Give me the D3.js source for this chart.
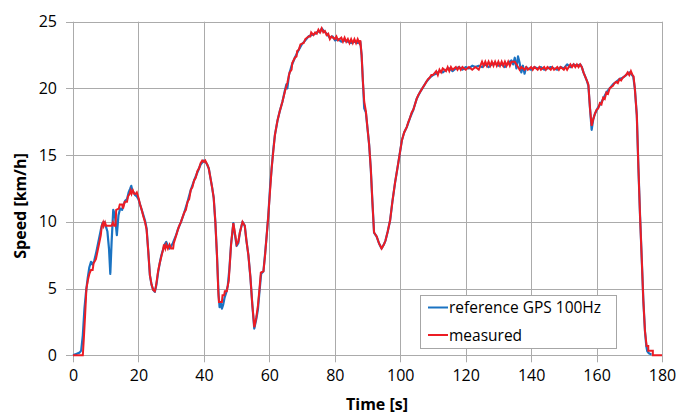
<!DOCTYPE html>
<html>
<head>
<meta charset="utf-8">
<script src="https://cdn.jsdelivr.net/npm/d3@7"></script>
<style>
  html, body { margin: 0; padding: 0; background: #fff; }
  svg { display: block; }
  text { font-family: "Open Sans", "Liberation Sans", sans-serif; fill: #000; }
</style>
</head>
<body>
<svg id="chart" width="678" height="416"></svg>
<script>
// ---- Data ----
const xTicks = [0, 20, 40, 60, 80, 100, 120, 140, 160, 180];
const yTicks = [0, 5, 10, 15, 20, 25];
const seriesNames = ["reference GPS 100Hz", "measured"];

// reference GPS 100Hz: [time s, speed km/h]
const reference = [[0,0],[0.5,0.05],[1,0.1],[1.5,0.15],[2,0.2],[2.5,0.35],[3,1.5],[3.5,3.5],[4,4.8],[4.5,5.8],[5,6.6],[5.5,7.0],[6,6.8],[6.5,7.1],[7,7.6],[7.5,8.2],[8,8.8],[8.5,9.4],[9,9.9],[9.5,10.0],[10,9.7],[10.5,9.3],[11,8.0],[11.4,6.1],[11.8,8.5],[12.3,10.9],[12.8,10.5],[13.4,9.0],[13.9,10.5],[14.4,11.0],[15,10.9],[15.5,11.3],[16,11.6],[16.5,11.7],[17,12.2],[17.5,12.5],[17.8,12.7],[18.2,12.3],[18.6,12.2],[19,12.0],[19.5,11.9],[20,11.7],[20.5,11.3],[21,10.9],[21.5,10.5],[22,10.1],[22.5,9.5],[23,7.8],[23.5,6.0],[24,5.3],[24.5,4.9],[25,4.75],[25.5,5.3],[26,6.2],[26.5,6.9],[27,7.5],[27.5,7.9],[28,8.3],[28.5,8.5],[29,8.2],[29.5,8.0],[30,8.2],[30.5,8.4],[31,8.7],[31.5,9.0],[32,9.4],[32.5,9.7],[33,10.0],[34,10.7],[35,11.5],[36,12.4],[37,13.1],[38,13.7],[39,14.3],[40,14.6],[40.5,14.5],[41,14.3],[41.5,14.0],[42,13.3],[42.5,12.6],[43,11.8],[43.5,10.0],[44,7.5],[44.5,4.5],[44.8,3.6],[45.2,3.9],[45.5,3.5],[45.9,3.8],[46.3,4.3],[46.8,4.7],[47.3,5.2],[47.8,6.5],[48.3,8.3],[49,9.9],[49.5,9.0],[50,8.2],[50.5,8.4],[51,9.2],[51.8,10.0],[52.5,9.7],[53,8.6],[53.6,7.5],[54.2,5.9],[54.8,3.8],[55.4,2.0],[56,2.7],[56.5,3.4],[57,4.8],[57.5,6.1],[58.2,6.3],[58.7,7.6],[59.2,9.0],[59.7,10.5],[60.2,12.5],[60.7,14.0],[61.2,15.4],[61.7,16.5],[62.5,17.6],[63.2,18.3],[64,19.0],[64.8,19.9],[65.2,20.3],[65.5,20.0],[66,21.0],[66.8,21.7],[67.8,22.3],[68.8,22.8],[69.9,23.3],[71,23.6],[72,23.9],[73,24.0],[74,24.1],[75,24.3],[75.5,24.2],[76,24.5],[76.7,24.3],[77.5,24.1],[78.5,23.8],[79.3,23.9],[80.1,23.6],[81,23.7],[82,23.5],[83,23.6],[84,23.5],[85,23.4],[86,23.5],[87,23.4],[87.8,23.5],[88.2,22.5],[88.6,20.5],[89,18.5],[89.5,18.2],[90,17.0],[90.5,15.8],[91,14.0],[91.5,11.5],[92,9.2],[92.8,8.9],[93.5,8.4],[94.3,8.0],[95,8.3],[95.5,8.6],[96.2,9.3],[96.9,10.1],[97.6,11.5],[98.4,12.9],[99.4,14.4],[100.5,16.1],[101.2,16.7],[102,17.1],[103,17.8],[104,18.4],[105,19.2],[106,19.7],[107,20.1],[108,20.5],[109,20.8],[110,21.0],[111,21.1],[112,21.3],[113,21.2],[114,21.4],[115,21.5],[116,21.3],[117,21.5],[118,21.6],[119,21.4],[120,21.6],[121,21.5],[122,21.7],[123,21.6],[124,21.7],[125,21.6],[126,21.8],[127,21.6],[128,21.8],[129,21.9],[130,21.7],[131,21.8],[132,21.6],[133,21.9],[134,22.1],[134.5,21.8],[135,22.3],[135.5,21.5],[136,22.4],[136.5,21.9],[137,21.2],[137.5,21.7],[138,21.1],[138.5,21.6],[139,21.5],[140,21.4],[141,21.6],[142,21.5],[143,21.6],[144,21.4],[145,21.5],[146,21.6],[147,21.5],[148,21.4],[149,21.6],[150,21.5],[151,21.8],[152,21.6],[153,21.8],[154,21.7],[155,21.8],[155.5,21.6],[156,21.2],[156.5,20.9],[157,20.6],[157.5,20.2],[158,18.5],[158.5,16.9],[159,17.7],[159.5,18.1],[160.3,18.5],[161.1,18.8],[162,19.2],[163,19.7],[164,20.0],[165,20.3],[166,20.5],[167,20.7],[168,20.8],[169,21.0],[170,21.2],[170.5,21.1],[171.2,20.9],[171.7,20.0],[172.3,18.0],[172.8,14.0],[173.3,10.4],[173.8,7.3],[174.3,4.1],[174.8,1.8],[175.2,0.7],[175.5,0.3],[176,0.15],[176.8,0.05]];

// measured: [time s, speed km/h]
const measured = [[0,0],[3,0],[3.3,1.2],[3.7,3.0],[4.1,5.0],[4.6,5.7],[5,6.1],[5.5,6.4],[6,6.4],[6.3,6.9],[7,7.2],[7.5,7.8],[8,8.4],[8.5,9.0],[8.8,9.7],[9.2,9.95],[9.4,9.7],[9.8,9.95],[10.1,9.7],[10.5,9.7],[11.8,9.7],[12.2,9.95],[12.6,9.7],[13,9.7],[13.2,10.9],[14,11.0],[14.3,11.3],[15,11.3],[15.3,11.0],[15.8,11.5],[16.5,11.5],[16.8,11.9],[17.3,12.1],[17.6,12.35],[17.9,12.1],[18.3,12.35],[18.7,12.1],[19.2,12.1],[19.5,12.2],[20,11.8],[20.5,11.3],[21,10.9],[21.5,10.4],[22,10.0],[22.5,9.4],[23,7.8],[23.5,6.0],[24,5.3],[24.5,4.9],[25,4.8],[25.3,5.1],[25.6,5.6],[26,6.3],[26.5,6.9],[27,7.4],[27.5,7.9],[27.8,8.3],[28.2,8.0],[28.5,8.3],[29,8.0],[29.5,8.3],[30,8.0],[30.6,8.0],[30.8,8.4],[31.3,8.8],[31.8,9.2],[32.3,9.6],[33,10.0],[34,10.7],[34.5,10.9],[35,11.5],[35.5,11.7],[36,12.4],[36.5,12.6],[37,13.1],[37.5,13.3],[38,13.8],[38.5,14.0],[39,14.4],[39.5,14.6],[40,14.5],[40.4,14.6],[41,14.3],[41.5,14.0],[42,13.3],[42.5,12.6],[43,11.8],[43.5,10.0],[44,7.5],[44.4,4.8],[44.6,4.0],[45.5,4.0],[45.7,4.5],[46.2,4.5],[46.4,4.8],[47,4.8],[47.2,5.1],[47.6,5.6],[48.3,8.3],[49,9.9],[49.6,9.0],[50,8.3],[50.5,8.5],[51,9.2],[51.8,10.0],[52.5,9.7],[53,8.6],[53.6,7.5],[54.2,5.9],[54.8,3.8],[55.4,2.1],[56,2.8],[56.5,3.7],[57,5.0],[57.4,6.2],[58.2,6.3],[58.7,7.5],[59.7,10.5],[60.7,14.0],[61.7,16.5],[62.5,17.6],[63.2,18.3],[64,19.0],[64.8,19.8],[65.5,20.4],[66.2,21.2],[66.8,21.4],[67,21.9],[67.8,22.3],[68.3,22.4],[68.5,22.8],[69,22.9],[69.5,23.3],[70.5,23.4],[71,23.7],[72,23.9],[72.5,23.9],[72.8,24.2],[73.5,24.0],[74,24.2],[74.5,24.1],[75,24.4],[75.5,24.2],[76,24.5],[76.5,24.2],[77,24.3],[77.5,24.0],[78,24.1],[78.5,23.7],[79,23.9],[80,23.7],[80.5,23.9],[81,23.6],[82,23.8],[82.5,23.5],[83,23.8],[83.5,23.5],[84,23.7],[84.5,23.4],[85,23.7],[85.5,23.4],[86,23.7],[86.5,23.4],[87,23.7],[87.5,23.4],[87.8,23.6],[88.2,22.5],[88.6,20.5],[89,19.0],[89.5,18.3],[90,17.0],[90.5,15.8],[91,14.0],[91.5,11.5],[92,9.2],[92.8,8.9],[93.5,8.4],[94.3,8.0],[95,8.3],[95.5,8.6],[96.2,9.3],[96.9,10.1],[97.6,11.5],[98.4,12.9],[99.4,14.4],[100.5,16.1],[101.2,16.7],[102,17.1],[102.5,17.5],[103,17.8],[103.5,18.2],[104,18.4],[104.5,18.8],[105,19.2],[105.5,19.5],[106,19.7],[106.5,19.9],[107,20.1],[107.5,20.3],[108,20.5],[108.5,20.7],[109,20.8],[109.5,21.0],[110,21.0],[111,21.3],[111.5,21.0],[112,21.4],[112.5,21.2],[113,21.5],[114,21.3],[114.5,21.6],[115,21.3],[115.5,21.6],[116,21.4],[117,21.6],[117.5,21.4],[118,21.6],[118.5,21.4],[119,21.6],[120,21.4],[121,21.6],[122,21.4],[123,21.6],[124,21.4],[124.5,21.7],[125,22.0],[125.5,21.7],[126,22.0],[126.5,21.7],[127,22.0],[127.5,21.7],[128,22.0],[128.5,21.7],[129,22.0],[129.5,21.7],[130,22.0],[130.5,21.7],[131,22.0],[131.5,21.7],[132,22.0],[132.5,21.7],[133,22.0],[133.5,21.7],[134,22.0],[135,22.0],[136,21.6],[136.5,21.4],[137,21.6],[138,21.4],[138.5,21.6],[139,21.4],[140,21.6],[140.5,21.4],[141,21.6],[142,21.4],[142.5,21.6],[143,21.4],[144,21.6],[144.5,21.4],[145,21.6],[146,21.4],[146.5,21.6],[147,21.4],[148,21.6],[148.5,21.4],[149,21.6],[150,21.4],[150.5,21.6],[151,21.4],[151.5,21.6],[152,21.8],[152.5,21.6],[153,21.8],[153.5,21.6],[154,21.8],[154.5,21.6],[155,21.8],[155.5,21.6],[156,21.2],[156.5,20.9],[157,20.6],[157.5,20.3],[158,18.5],[158.5,17.2],[159,17.7],[159.5,18.1],[160,18.4],[160.5,18.5],[161,18.9],[161.5,18.8],[162,19.3],[162.5,19.2],[163,19.7],[163.5,19.6],[164,20.0],[164.5,20.1],[165,20.2],[165.5,20.4],[166,20.5],[166.5,20.4],[167,20.7],[167.5,20.6],[168,20.8],[168.5,20.9],[169,21.0],[169.5,21.2],[170,21.0],[170.5,21.3],[171,21.0],[171.3,20.9],[171.7,20.0],[172.3,18.0],[172.8,14.0],[173.3,10.4],[173.8,7.3],[174.3,4.1],[174.8,1.8],[175.3,0.7],[175.8,0.7],[175.8,0.35],[177.2,0.35],[177.2,0],[180,0]];

// ---- Layout ----
const svg = d3.select("#chart");
const x = d3.scaleLinear().domain([0, 180]).range([73, 662]);
const y = d3.scaleLinear().domain([0, 25]).range([355.3, 21.7]);
const gridColor = "#ababab";

// grid lines (Excel-style: every major tick)
const grid = svg.append("g");
grid.selectAll("line.h").data(yTicks).enter().append("line")
  .attr("x1", 66).attr("x2", x(180))
  .attr("y1", d => Math.round(y(d)) + 0.5).attr("y2", d => Math.round(y(d)) + 0.5)
  .attr("stroke", gridColor).attr("stroke-width", 1);
grid.selectAll("line.v").data(xTicks).enter().append("line")
  .attr("x1", d => Math.round(x(d)) + 0.5).attr("x2", d => Math.round(x(d)) + 0.5)
  .attr("y1", y(25)).attr("y2", y(0) + 7)
  .attr("stroke", gridColor).attr("stroke-width", 1);

// axes via d3 (labels only; lines drawn above as grid)
const yAxis = d3.axisLeft(y).tickValues(yTicks).tickSize(0).tickPadding(0);
const yg = svg.append("g").attr("transform", "translate(57,0)").call(yAxis);
yg.select(".domain").remove();
yg.selectAll("text").attr("font-size", 16).attr("font-family", "Open Sans, sans-serif").attr("fill", "#000");

const xAxis = d3.axisBottom(x).tickValues(xTicks).tickSize(0).tickPadding(0);
const xg = svg.append("g").attr("transform", "translate(0,370)").call(xAxis);
xg.select(".domain").remove();
xg.selectAll("text").attr("font-size", 16).attr("font-family", "Open Sans, sans-serif").attr("fill", "#000");

// axis titles
svg.append("text").attr("x", 377).attr("y", 410).attr("text-anchor", "middle")
  .attr("font-size", 16).attr("font-weight", "bold").text("Time [s]");
svg.append("text").attr("transform", "translate(26,206) rotate(-90)").attr("text-anchor", "middle")
  .attr("font-size", 16).attr("font-weight", "bold").text("Speed  [km/h]");

// series
const line = d3.line().x(d => x(d[0])).y(d => y(d[1]));
const colors = ["#1a73c2", "#ec1c24"];

svg.append("path").datum(reference).attr("d", line)
  .attr("fill", "none").attr("stroke", colors[0]).attr("stroke-width", 2.2).attr("stroke-linejoin", "round");
svg.append("path").datum(measured).attr("d", line)
  .attr("fill", "none").attr("stroke", colors[1]).attr("stroke-width", 2).attr("stroke-linejoin", "miter");

// legend
const lg = svg.append("g");
lg.append("rect").attr("x", 420.5).attr("y", 295.5).attr("width", 196).attr("height", 53)
  .attr("fill", "#fff").attr("stroke", "#a6a6a6").attr("stroke-width", 1);
seriesNames.forEach((name, i) => {
  const cy = 307.5 + i * 27.5;
  lg.append("line").attr("x1", 428).attr("x2", 448).attr("y1", cy).attr("y2", cy)
    .attr("stroke", colors[i]).attr("stroke-width", 2);
  lg.append("text").attr("x", 449).attr("y", cy + 5.5).attr("font-size", 15.5).text(name);
});
</script>
</body>
</html>
